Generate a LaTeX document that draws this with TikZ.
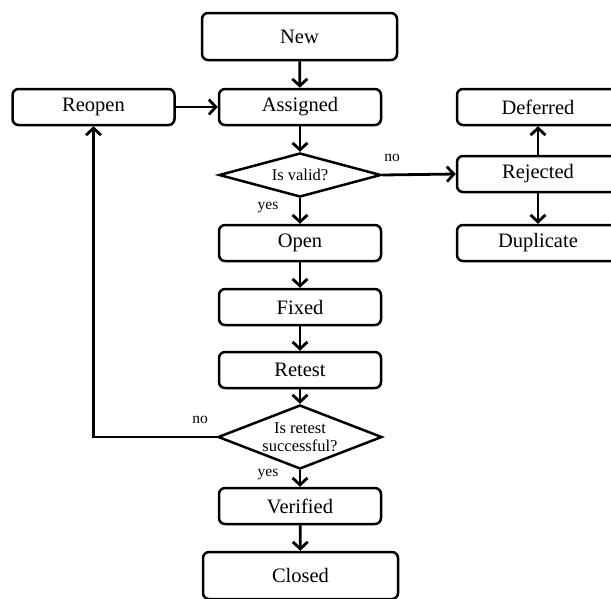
\documentclass[tikz,border=0pt]{standalone}
\usepackage{fontspec}
\setmainfont{Liberation Serif}
\usetikzlibrary{shapes.geometric,arrows.meta}
\begin{document}
\begin{tikzpicture}[x=1pt,y=-1pt,
  box/.style={draw,line width=2.5pt,rounded corners=6pt,minimum width=162pt,minimum height=36pt,inner sep=0pt,font=\fontsize{20.5}{22}\selectfont},
  bigbox/.style={box,minimum width=195pt,minimum height=47pt},
  decision/.style={draw,line width=2.5pt,diamond,inner sep=0pt,aspect=2.6,font=\fontsize{16.5}{19}\selectfont,align=center},
  lbl/.style={font=\fontsize{15.5}{17}\selectfont,inner sep=0pt},
  flow/.style={line width=2.8pt,-{Straight Barb[length=7pt,width=15pt,line width=2.8pt]}}]
\useasboundingbox[fill=white] (0,0) rectangle (611,598);
\node[bigbox] (new) at (299.5,36.5) {New};
\node[box] (assigned) at (300,107) {Assigned};
\node[box] (reopen) at (93.5,107) {Reopen};
\node[box] (deferred) at (538,107) {Deferred};
\node[decision,minimum width=162pt,minimum height=44pt] (valid) at (300,175) {Is valid?};
\node[box] (rejected) at (538,174) {Rejected};
\node[box] (duplicate) at (538,243) {Duplicate};
\node[box] (open) at (300,243) {Open};
\node[box] (fixed) at (300,307) {Fixed};
\node[box] (retest) at (300,370) {Retest};
\node[decision,minimum width=164pt,minimum height=64pt] (success) at (300,437) {Is retest\\[-1pt]successful?};
\node[box] (verified) at (300,506) {Verified};
\node[bigbox] (closed) at (300.5,575.5) {Closed};
\node[lbl] (no1) at (392,158) {no};
\node[lbl] (yes1) at (268,208) {yes};
\node[lbl] (no2) at (200,420) {no};
\node[lbl] (yes2) at (268,475) {yes};
\draw[flow] (new) -- (assigned);
\draw[flow] (reopen) -- (assigned);
\draw[flow] (assigned) -- (valid);
\draw[flow] (valid.east) -- (rejected.west);
\draw[flow] (rejected) -- (deferred);
\draw[flow] (rejected) -- (duplicate);
\draw[flow] (valid) -- (open);
\draw[flow] (open) -- (fixed);
\draw[flow] (fixed) -- (retest);
\draw[flow] (retest) -- (success);
\draw[flow] (success) -- (verified);
\draw[flow] (verified) -- (closed);
\draw[flow] (success.west) -| (reopen.south);
\end{tikzpicture}
\end{document}
